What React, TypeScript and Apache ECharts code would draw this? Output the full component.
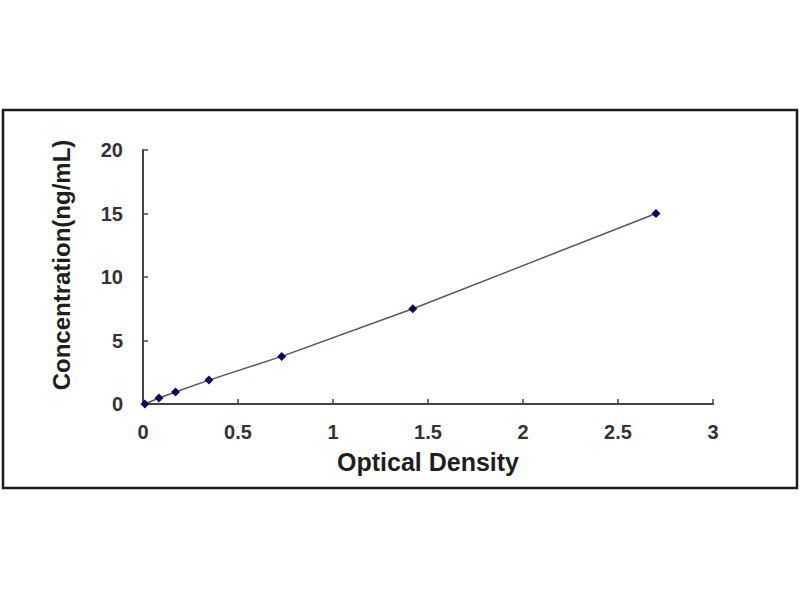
import React, { useEffect, useRef } from "react";
import * as echarts from "echarts";

const opticalDensity = [0.01, 0.084, 0.171, 0.347, 0.73, 1.42, 2.7];
const concentration = [0, 0.47, 0.94, 1.88, 3.75, 7.5, 15];
const xAxisTitle = "Optical Density";
const yAxisTitle = "Concentration(ng/mL)";

export default function App() {
  const ref = useRef<HTMLDivElement>(null);
  useEffect(() => {
    if (!ref.current) return;
    const chart = echarts.init(ref.current, undefined, { renderer: "svg" });
    const font = "'Liberation Sans', Arial, sans-serif";
    const data = opticalDensity.map((x, i) => [x, concentration[i]]);
    chart.setOption({
      animation: false,
      backgroundColor: "#ffffff",
      grid: { left: 143, right: 87, top: 150, bottom: 196, containLabel: false },
      graphic: [
        {
          type: "rect",
          shape: { x: 3, y: 110, width: 794, height: 378 },
          style: { fill: "none", stroke: "#1a1a1a", lineWidth: 2.5 },
          silent: true,
          z: 0,
        },
      ],
      xAxis: {
        type: "value",
        min: 0,
        max: 3,
        interval: 0.5,
        name: xAxisTitle,
        nameLocation: "middle",
        nameGap: 45,
        nameTextStyle: { fontFamily: font, fontWeight: "bold", fontSize: 25, color: "#1e1e1e" },
        axisLine: { show: true, onZero: false, lineStyle: { color: "#444", width: 2 } },
        axisTick: { show: true, inside: true, length: 5, lineStyle: { color: "#444", width: 1.5 } },
        axisLabel: { margin: 18, fontFamily: font, fontWeight: "bold", fontSize: 20, color: "#333" },
        splitLine: { show: false },
      },
      yAxis: {
        type: "value",
        min: 0,
        max: 20,
        interval: 5,
        name: yAxisTitle,
        nameLocation: "middle",
        nameGap: 70,
        nameTextStyle: {
          fontFamily: font,
          fontWeight: "bold",
          fontSize: 24,
          color: "#1e1e1e",
          padding: [0, 0, 0, 24],
        },
        axisLine: { show: true, onZero: false, lineStyle: { color: "#444", width: 2 } },
        axisTick: { show: true, inside: true, length: 5, lineStyle: { color: "#444", width: 1.5 } },
        axisLabel: { margin: 20, fontFamily: font, fontWeight: "bold", fontSize: 20, color: "#333" },
        splitLine: { show: false },
      },
      series: [
        {
          type: "line",
          data,
          symbol: "diamond",
          symbolSize: 9,
          showSymbol: true,
          itemStyle: { color: "#0a0a5a" },
          lineStyle: { color: "#555566", width: 1.5 },
          z: 3,
        },
      ],
    });
    return () => chart.dispose();
  }, []);
  return (
    <div
      ref={ref}
      style={{ position: "absolute", left: 0, top: 0, width: 800, height: 600 }}
    />
  );
}
